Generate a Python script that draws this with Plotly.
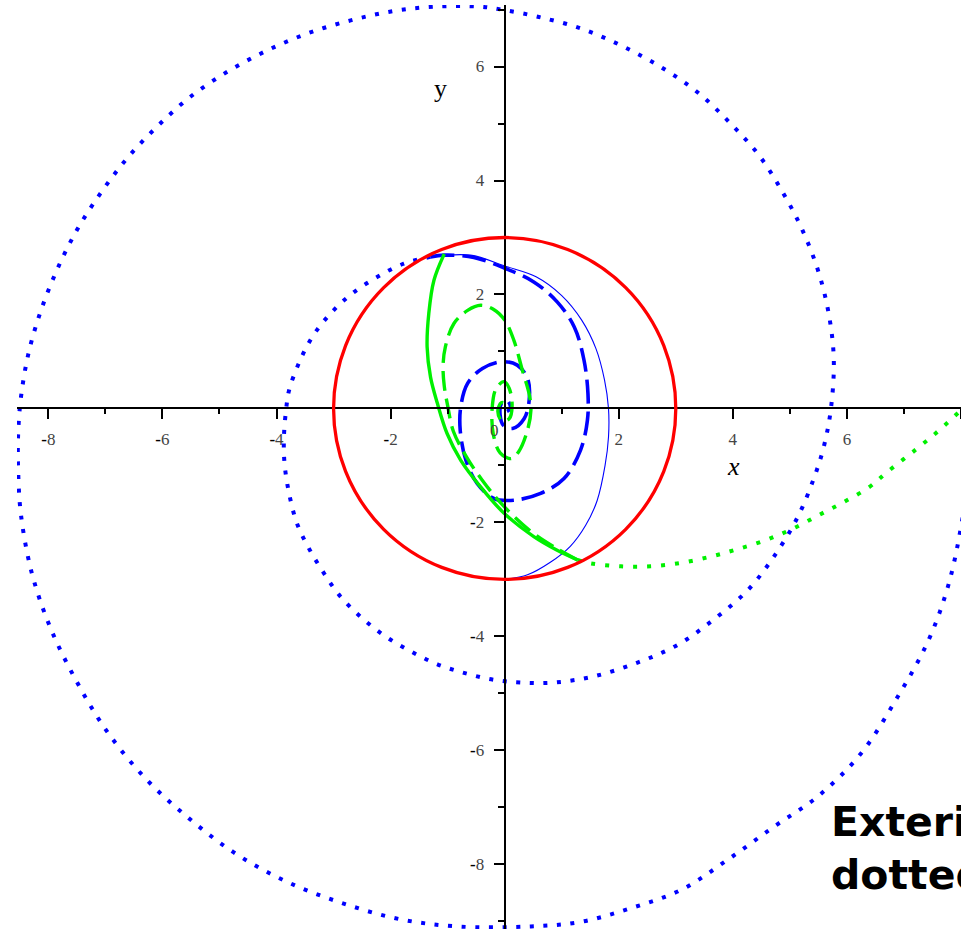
import plotly.graph_objects as go

# ---------------- data ----------------
circle_radius = 3.0

blue_dotted_x = [-1.30, -1.77, -2.23, -2.67, -3.05, -3.37, -3.61, -3.78, -3.83, -3.87, -3.86, -3.78, -3.64, -3.43,
                 -3.17, -2.88, -2.50, -2.09, -1.65, -1.18, -0.68, -0.20, 0.28, 0.86, 1.57, 2.33, 3.03, 3.67, 4.26,
                 4.72, 5.14, 5.43, 5.60, 5.72, 5.77, 5.69, 5.51, 5.22, 4.87, 4.46, 3.96, 3.38, 2.74, 2.04, 1.33,
                 0.60, 0.00, -0.42, -1.24, -1.97, -2.70, -3.46, -4.19, -4.86, -5.51, -6.09, -6.62, -7.09, -7.50,
                 -7.85, -8.14, -8.35, -8.48, -8.53, -8.53, -8.48, -8.29, -7.96, -7.50, -6.97, -6.30, -5.54, -4.72,
                 -3.81, -2.85, -1.85, -0.83, 0.46, 1.33, 2.21, 3.09, 3.91, 4.72, 5.50, 6.25, 6.89, 7.42, 7.77,
                 8.00, 8.15, 8.22]
blue_dotted_y = [2.66, 2.54, 2.31, 2.02, 1.67, 1.26, 0.79, 0.32, 0.00, -0.50, -0.96, -1.49, -2.02, -2.46,
                 -2.89, -3.30, -3.68, -4.00, -4.26, -4.49, -4.65, -4.76, -4.81, -4.81, -4.70, -4.46, -4.15, -3.70,
                 -3.19, -2.60, -1.90, -1.20, -0.65, 0.00, 0.85, 1.61, 2.37, 3.13, 3.80, 4.44, 5.00, 5.55, 5.99,
                 6.37, 6.67, 6.87, 6.99, 7.05, 7.05, 6.97, 6.81, 6.58, 6.27, 5.91, 5.47, 4.95, 4.39, 3.77, 3.13,
                 2.43, 1.69, 0.96, 0.20, -0.45, -1.08, -1.87, -2.89, -3.86, -4.80, -5.67, -6.49, -7.19, -7.81,
                 -8.31, -8.68, -8.96, -9.09, -9.09, -9.01, -8.77, -8.45, -7.92, -7.34, -6.80, -6.05, -5.06, -4.09,
                 -3.13, -2.08, -1.00, 0.00]

blue_dashed_x = [-1.30, -1.06, -0.54, 0.00, 0.51, 0.92, 1.22, 1.39, 1.46, 1.45, 1.33, 1.04, 0.63, 0.16, -0.19,
                 -0.48, -0.68, -0.78, -0.77, -0.65, -0.39, -0.04, 0.22, 0.40, 0.43, 0.34, 0.14, -0.02, -0.08,
                 -0.05, 0.05, 0.10, 0.04]
blue_dashed_y = [2.66, 2.69, 2.65, 2.46, 2.22, 1.87, 1.43, 0.85, 0.26, -0.21, -0.73, -1.23, -1.49, -1.61, -1.58,
                 -1.32, -0.91, -0.38, 0.03, 0.44, 0.70, 0.82, 0.76, 0.53, 0.15, -0.18, -0.35, -0.30, -0.12,
                 0.10, 0.13, 0.00, -0.05]

blue_thin_x = [-1.30, -0.60, 0.00, 0.55, 1.00, 1.35, 1.60, 1.75, 1.82, 1.82, 1.76, 1.62, 1.42, 1.15, 0.80, 0.40, 0.00]
blue_thin_y = [2.66, 2.69, 2.50, 2.31, 1.98, 1.55, 1.05, 0.50, 0.00, -0.50, -1.00, -1.62, -2.05, -2.42, -2.70, -2.92, -3.00]

green_dashed_x = [1.28, 0.90, 0.45, -0.05, -0.40, -0.67, -0.90, -1.00, -1.06, -1.08, -1.04, -0.89, -0.65, -0.42,
                  -0.20, 0.00, 0.16, 0.31, 0.43, 0.46, 0.40, 0.25, 0.11, -0.08, -0.20, -0.22, -0.15, -0.01, 0.08,
                  0.13, 0.08, -0.05, -0.12, -0.06, 0.02, 0.03]
green_dashed_y = [-2.66, -2.45, -2.15, -1.68, -1.25, -0.85, -0.40, 0.05, 0.40, 0.75, 1.08, 1.49, 1.72, 1.81,
                  1.74, 1.55, 1.20, 0.67, 0.25, -0.03, -0.38, -0.75, -0.88, -0.78, -0.45, 0.00, 0.35, 0.47, 0.35,
                  0.05, -0.18, -0.22, -0.05, 0.10, 0.08, 0.00]

green_solid_x = [-1.06, -1.24, -1.33, -1.36, -1.30, -1.18, -1.01, -0.77, -0.42, -0.01, 0.51, 0.92, 1.28]
green_solid_y = [2.71, 2.25, 1.67, 1.08, 0.55, 0.09, -0.44, -0.91, -1.38, -1.84, -2.25, -2.49, -2.66]

green_dotted_x = [1.28, 1.51, 2.04, 2.56, 3.09, 3.61, 4.08, 4.58, 5.05, 5.51, 5.95, 6.39, 6.70, 7.21, 7.62, 8.00, 8.40]
green_dotted_y = [-2.66, -2.72, -2.77, -2.77, -2.71, -2.60, -2.47, -2.31, -2.11, -1.87, -1.64, -1.38, -1.12, -0.72,
                  -0.38, -0.03, 0.35]

x_major = [-8, -6, -4, -2, 2, 4, 6, 8]
x_minor = [-7, -5, -3, -1, 1, 3, 5, 7]
y_major = [-8, -6, -4, -2, 2, 4, 6]
y_minor = [-9, -7, -5, -3, -1, 1, 3, 5, 7]

x_view = [-8.55, 8.0]
y_view = [-9.135, 7.08]

note_lines = ["Exterior parts", "dotted"]

# ---------------- figure ----------------
W, H = 961, 929
x_dom = [17 / W, 1.0]
y_dom = [0.0, 1 - 5 / H]


def tick_text(v):
    if v < 0:
        return '<span style="color:#000000"><b>-</b></span>' + str(abs(v))
    return str(v)


fig = go.Figure()

BLUE = "#0000ff"
GREEN = "#00f000"
RED = "#ff0000"

fig.add_trace(go.Scatter(x=blue_dotted_x, y=blue_dotted_y, mode="lines",
                         line=dict(color=BLUE, width=4, dash="4px,9.6px", shape="spline")))
fig.add_trace(go.Scatter(x=blue_dashed_x, y=blue_dashed_y, mode="lines",
                         line=dict(color=BLUE, width=3.6, dash="24px,8px", shape="spline")))
fig.add_trace(go.Scatter(x=blue_thin_x, y=blue_thin_y, mode="lines",
                         line=dict(color=BLUE, width=1.1, shape="spline")))
fig.add_trace(go.Scatter(x=green_dashed_x, y=green_dashed_y, mode="lines",
                         line=dict(color=GREEN, width=3.4, dash="20px,8px", shape="spline")))
fig.add_trace(go.Scatter(x=green_solid_x, y=green_solid_y, mode="lines",
                         line=dict(color=GREEN, width=3.4, shape="spline")))
fig.add_trace(go.Scatter(x=green_dotted_x, y=green_dotted_y, mode="lines",
                         line=dict(color=GREEN, width=4, dash="4px,10px", shape="spline")))

fig.add_shape(type="circle", xref="x", yref="y",
              x0=-circle_radius, x1=circle_radius, y0=-circle_radius, y1=circle_radius,
              line=dict(color=RED, width=3.3))

x_pos = x_dom[0] + (x_dom[1] - x_dom[0]) * (0 - x_view[0]) / (x_view[1] - x_view[0])
y_pos = y_dom[0] + (y_dom[1] - y_dom[0]) * (0 - y_view[0]) / (y_view[1] - y_view[0])

tickfont = dict(family="Liberation Serif", size=17, color="#444444")

fig.update_layout(
    width=W, height=H,
    margin=dict(l=0, r=0, t=0, b=0),
    paper_bgcolor="white", plot_bgcolor="white",
    showlegend=False,
    xaxis=dict(range=x_view, domain=x_dom, anchor="free", position=y_pos,
               showgrid=False, zeroline=False,
               showline=True, linecolor="black", linewidth=2,
               ticks="outside", ticklen=10, tickwidth=1.5, tickcolor="black",
               tickmode="array", tickvals=x_major, ticktext=[tick_text(v) for v in x_major],
               tickfont=tickfont, ticklabelstandoff=5,
               minor=dict(tickmode="array", tickvals=x_minor, ticks="outside", ticklen=5,
                          tickwidth=1.5, tickcolor="black", showgrid=False)),
    yaxis=dict(range=y_view, domain=y_dom, anchor="free", position=x_pos,
               showgrid=False, zeroline=False,
               showline=True, linecolor="black", linewidth=2,
               ticks="outside", ticklen=10, tickwidth=1.5, tickcolor="black",
               tickmode="array", tickvals=y_major, ticktext=[tick_text(v) for v in y_major],
               tickfont=tickfont, ticklabelstandoff=6,
               minor=dict(tickmode="array", tickvals=y_minor, ticks="outside", ticklen=6,
                          tickwidth=1.5, tickcolor="black", showgrid=False)),
)

fig.add_annotation(x=-0.18, y=-0.38, xref="x", yref="y", text="0", showarrow=False,
                   font=tickfont)
fig.add_annotation(x=-1.12, y=5.61, xref="x", yref="y", text="y", showarrow=False,
                   font=dict(family="Liberation Serif", size=26, color="black"))
fig.add_annotation(x=4.02, y=-1.02, xref="x", yref="y", text="<i>x</i>", showarrow=False,
                   font=dict(family="Liberation Serif", size=26, color="black"))
fig.add_annotation(x=(828 - 504) / 57, y=-6.80, xref="x", yref="y",
                   text="<b>" + "<br>".join(note_lines) + "</b>",
                   showarrow=False, xanchor="left", yanchor="top", align="left",
                   font=dict(family="DejaVu Sans", size=41, color="black"))

fig.write_html("out.html",
               config={"displayModeBar": False},
               post_script="document.body.style.margin='0';document.body.style.overflow='hidden';")
